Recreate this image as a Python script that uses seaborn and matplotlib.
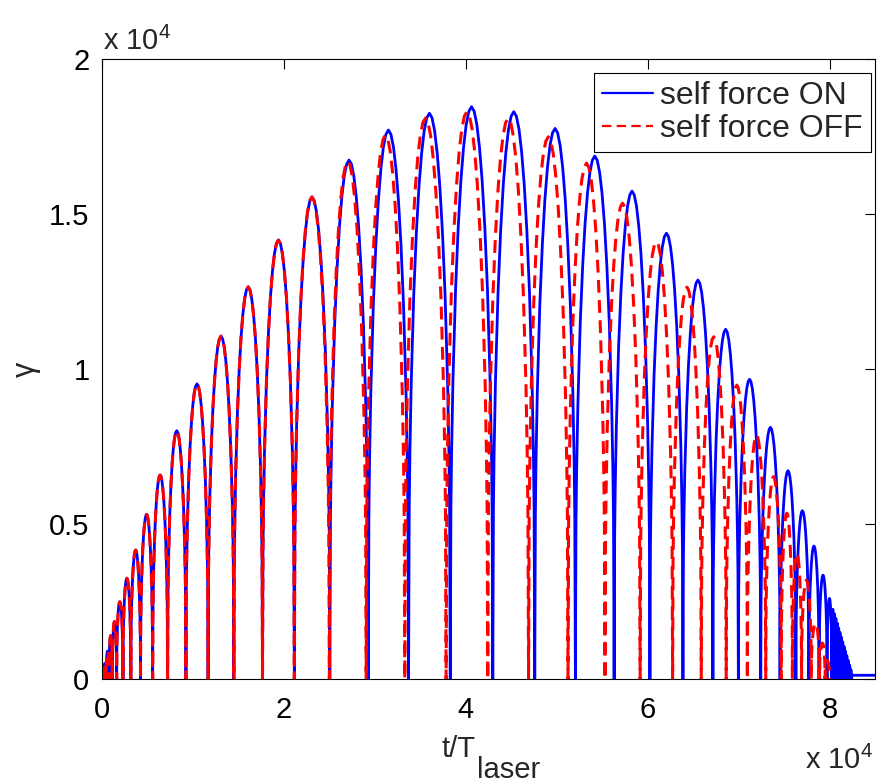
import numpy as np
import pandas as pd
import matplotlib
matplotlib.use("Agg")
import matplotlib.pyplot as plt
import seaborn as sns
from matplotlib.ticker import FixedLocator, FuncFormatter

sns.set_theme(style="white")
plt.rcParams['font.family'] = ['Liberation Sans', 'DejaVu Sans']
plt.rcParams['mathtext.fontset'] = 'custom'
plt.rcParams['mathtext.rm'] = 'Liberation Sans'
plt.rcParams['mathtext.it'] = 'Liberation Sans'

# ---- data (time and gamma in units of 1e4) ----
# peak positions / heights of the arches, self force ON
on_peak_t = [0.03, 0.06, 0.095, 0.132, 0.190, 0.271, 0.363, 0.484, 0.630, 0.813,
             1.033, 1.30, 1.60, 1.93, 2.30, 2.71, 3.146, 3.596, 4.063, 4.531,
             4.986, 5.425, 5.838, 6.212, 6.564, 6.871, 7.124, 7.363, 7.549, 7.711,
             7.835, 7.934, 8.011, 8.04, 8.055, 8.07, 8.085, 8.10, 8.115, 8.13,
             8.145, 8.16, 8.175, 8.19, 8.205, 8.22, 8.235]
on_peak_g = [0.05, 0.09, 0.14, 0.185, 0.249, 0.325, 0.416, 0.531, 0.658, 0.801,
             0.952, 1.106, 1.265, 1.416, 1.555, 1.674, 1.771, 1.825, 1.846, 1.830,
             1.776, 1.687, 1.574, 1.438, 1.287, 1.128, 0.967, 0.812, 0.672, 0.543,
             0.429, 0.335, 0.260, 0.225, 0.21, 0.195, 0.18, 0.165, 0.15, 0.135,
             0.12, 0.105, 0.09, 0.075, 0.06, 0.045, 0.03]
on_tail_t = [8.245, 8.50]
on_tail_g = [0.012, 0.012]

# self force OFF
off_peak_t = [0.03, 0.06, 0.095, 0.132, 0.190, 0.271, 0.363, 0.484, 0.630, 0.813,
              1.033, 1.30, 1.60, 1.93, 2.30, 2.70, 3.11, 3.549, 4.019, 4.465,
              4.916, 5.333, 5.729, 6.106, 6.443, 6.736, 6.992, 7.201, 7.396, 7.542,
              7.641, 7.744, 7.854, 7.927, 7.975]
off_peak_g = [0.05, 0.09, 0.14, 0.185, 0.249, 0.325, 0.416, 0.531, 0.658, 0.801,
              0.952, 1.106, 1.265, 1.416, 1.555, 1.670, 1.755, 1.809, 1.830, 1.809,
              1.749, 1.664, 1.535, 1.411, 1.264, 1.104, 0.948, 0.787, 0.653, 0.535,
              0.405, 0.319, 0.18, 0.116, 0.06]

# normalised shape of one arch (fraction of arch width -> fraction of peak)
arch_u = [0, 1/64, 1/32, 1/16, 2/16, 3/16, 4/16, 5/16, 6/16, 7/16, 8/16,
          9/16, 10/16, 11/16, 12/16, 13/16, 14/16, 15/16, 31/32, 63/64, 1]
arch_s = [0, 0.30, 0.395, 0.52, 0.681, 0.790, 0.871, 0.929, 0.969, 0.992, 1.0,
          0.992, 0.969, 0.929, 0.871, 0.790, 0.681, 0.52, 0.395, 0.30, 0]

x_ticks = [0, 2, 4, 6, 8]
y_ticks = [0, 0.5, 1, 1.5, 2]
labels = ["self force ON", "self force OFF"]


def build(pt, pg):
    pt = np.asarray(pt, float)
    pg = np.asarray(pg, float)
    mids = (pt[1:] + pt[:-1]) / 2
    edges = np.concatenate([[max(pt[0] - (pt[1] - pt[0]) / 2, 0)], mids,
                            [pt[-1] + (pt[-1] - pt[-2]) / 2]])
    u = np.asarray(arch_u)
    s = np.asarray(arch_s)
    xs, ys = [], []
    for i in range(len(pt)):
        x = edges[i] + (edges[i + 1] - edges[i]) * u
        y = pg[i] * s
        if i > 0:
            x, y = x[1:], y[1:]
        xs.append(x)
        ys.append(y)
    return np.concatenate(xs), np.concatenate(ys)


t_on, g_on = build(on_peak_t, on_peak_g)
t_on = np.concatenate([t_on, on_tail_t])
g_on = np.concatenate([g_on, on_tail_g])
t_off, g_off = build(off_peak_t, off_peak_g)

df_on = pd.DataFrame({"t": t_on, "gamma": g_on, "series": labels[0]})
df_off = pd.DataFrame({"t": t_off, "gamma": g_off, "series": labels[1]})

W, H = 877, 784
fig = plt.figure(figsize=(W / 100, H / 100), dpi=100)
ax = fig.add_axes([102 / W, 1 - 679 / H, (875 - 102) / W, (679 - 59) / H])

sns.lineplot(data=df_on, x="t", y="gamma", ax=ax, color="#0000ff", lw=2.0,
             estimator=None, sort=False, label=labels[0])
sns.lineplot(data=df_off, x="t", y="gamma", ax=ax, color="#ff0000", lw=2.2,
             estimator=None, sort=False, label=labels[1])
ax.get_lines()[1].set_dashes((4.2, 2.4))

ax.set_xlim(0, 8.5)
ax.set_ylim(0, 2)
ax.xaxis.set_major_locator(FixedLocator(x_ticks))
ax.yaxis.set_major_locator(FixedLocator(y_ticks))
fmt = FuncFormatter(lambda v, p: "%g" % v)
ax.xaxis.set_major_formatter(fmt)
ax.yaxis.set_major_formatter(fmt)
ax.tick_params(direction="in", length=7, width=0.8, top=True, right=True,
               labelsize=21, colors="black")
ax.tick_params(axis="x", pad=12)
ax.tick_params(axis="y", pad=9)
for sp in ax.spines.values():
    sp.set_color("black")
    sp.set_linewidth(0.8)

ax.set_xlabel("")
ax.set_ylabel("γ", fontsize=22, rotation=90, labelpad=6)
fig.text(475 / W, 1 - 757 / H, "t/T", ha="right", va="baseline", fontsize=21)
fig.text(477 / W, 1 - 778 / H, "laser", ha="left", va="baseline", fontsize=21)

fig.text(103 / W, 1 - 50 / H, r"x 10$^{4}$", ha="left", va="baseline", fontsize=21)
fig.text(873 / W, 1 - 769 / H, r"x 10$^{4}$", ha="right", va="baseline", fontsize=21)

h = ax.get_lines()[:2]
leg = ax.legend(h, labels, loc="upper right", fontsize=23, frameon=True,
                fancybox=False, edgecolor="black", framealpha=1,
                bbox_to_anchor=(871 / W, 1 - 73 / H), bbox_transform=fig.transFigure,
                borderaxespad=0, handlelength=1.6, handletextpad=0.22,
                labelspacing=0.1, borderpad=0.25)
leg.get_frame().set_linewidth(0.8)
for ln in leg.get_lines():
    ln.set_linewidth(1.6)

fig.savefig("out.png", dpi=100)
